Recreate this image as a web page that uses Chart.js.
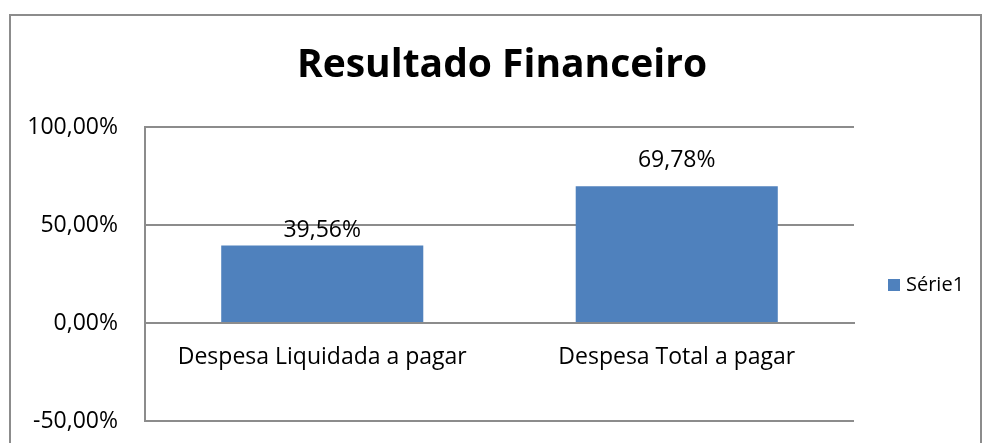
<!DOCTYPE html>
<html><head><meta charset="utf-8">
<script src="https://cdn.jsdelivr.net/npm/chart.js@4.4.1/dist/chart.umd.min.js"></script>
<style>html,body{margin:0;padding:0;background:#fff}canvas{display:block}</style>
</head><body>
<canvas id="c" width="982" height="443"></canvas>
<script>
const chartTitle = 'Resultado Financeiro';
const categories = ['Despesa Liquidada a pagar', 'Despesa Total a pagar'];
const seriesName = 'Série1';
const seriesValues = [39.56, 69.78];
const yTickValues = [-50, 0, 50, 100];

const FONT = '"Open Sans"';
const GRID = '#8c8c8c';
const BAR = '#4f81bd';
const fmt = v => v.toFixed(2).replace('.', ',') + '%';

const framePlugin = {
  id: 'frame',
  beforeDraw(chart) {
    const ctx = chart.ctx;
    ctx.save();
    ctx.fillStyle = '#fff';
    ctx.fillRect(0, 0, chart.width, chart.height);
    ctx.strokeStyle = '#8c8c8c';
    ctx.lineWidth = 2;
    ctx.strokeRect(10, 15, 971, 500);
    ctx.restore();
  },
  afterDraw(chart) {
    const ctx = chart.ctx;
    ctx.save();
    // title
    ctx.fillStyle = '#000';
    ctx.font = 'bold 39px ' + FONT;
    ctx.textAlign = 'center';
    ctx.textBaseline = 'alphabetic';
    ctx.fillText(chartTitle, 502, 77);
    // data labels
    const meta = chart.getDatasetMeta(0);
    const offsets = [8, 19];
    ctx.font = '23px ' + FONT;
    meta.data.forEach((bar, i) => {
      ctx.fillText(fmt(chart.data.datasets[0].data[i]), bar.x, bar.y - offsets[i]);
    });
    // legend
    const ds = chart.data.datasets[0];
    ctx.fillStyle = ds.backgroundColor;
    ctx.fillRect(888, 279, 12, 12);
    ctx.fillStyle = '#000';
    ctx.textAlign = 'left';
    ctx.font = '20px ' + FONT;
    ctx.fillText(ds.label, 906, 291);
    ctx.restore();
  }
};

new Chart(document.getElementById('c'), {
  type: 'bar',
  data: {
    labels: categories,
    datasets: [{
      label: seriesName,
      data: seriesValues,
      backgroundColor: BAR,
      borderWidth: 0,
      categoryPercentage: 1,
      barPercentage: 0.57
    }]
  },
  options: {
    responsive: false,
    animation: false,
    devicePixelRatio: 1,
    layout: { padding: { left: 0, top: 127, right: 128, bottom: 22 } },
    plugins: { legend: { display: false }, title: { display: false }, tooltip: { enabled: false } },
    scales: {
      x: {
        position: { y: 0 },
        afterFit(s) { s.height = 0; s.paddingTop = 0; s.paddingBottom = 0; s.paddingLeft = 0; s.paddingRight = 0; },
        grid: { display: false, drawTicks: false, tickLength: 0 },
        border: { display: true, color: GRID, width: 2 },
        ticks: { color: '#000', font: { family: FONT, size: 23 }, padding: 21, maxRotation: 0 }
      },
      y: {
        min: -50, max: 100,
        afterFit(s) { s.width = 145; s.paddingTop = 0; s.paddingBottom = 0; },
        afterBuildTicks(s) { s.ticks = yTickValues.map(v => ({ value: v })); },
        grid: { color: GRID, lineWidth: 2, drawTicks: false, tickLength: 0 },
        border: { display: true, color: GRID, width: 2 },
        ticks: { color: '#000', font: { family: FONT, size: 23 }, padding: 27, callback: v => fmt(v) }
      }
    }
  },
  plugins: [framePlugin]
});
</script>
</body></html>
